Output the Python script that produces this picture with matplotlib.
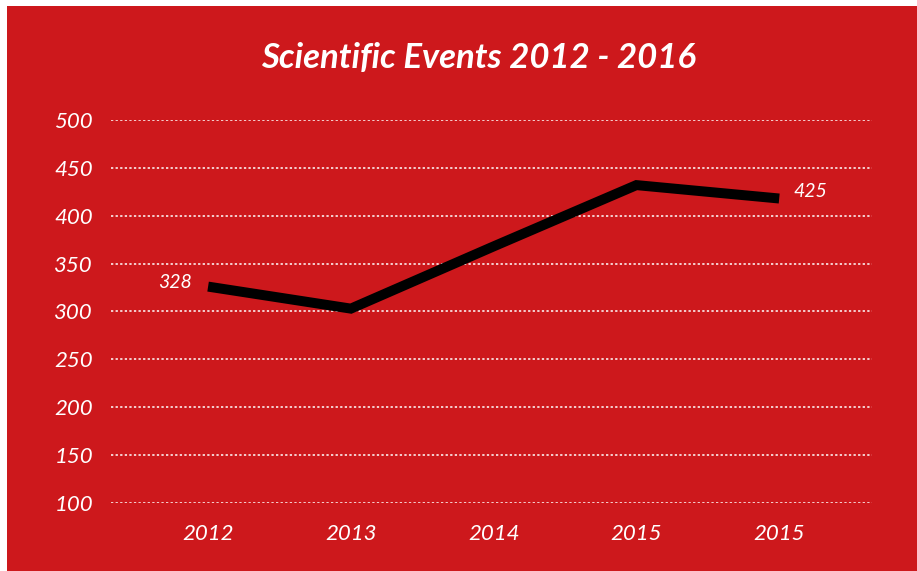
import matplotlib
matplotlib.use("Agg")
import matplotlib.pyplot as plt

years = ["2012", "2013", "2014", "2015", "2015"]
events = [326, 303, 368, 432, 418]
label_texts = ["328", "", "", "", "425"]
yticks = [100, 150, 200, 250, 300, 350, 400, 450, 500]
title = "Scientific Events 2012 - 2016"

RED = "#cd181c"
fig = plt.figure(figsize=(9.17, 5.71), dpi=100)
fig.patch.set_facecolor("white")
bg = fig.add_axes([7/917, 0, 1 - 7/917, 1 - 6/571])
bg.set_facecolor(RED)
bg.set_xticks([]); bg.set_yticks([])
for s in bg.spines.values():
    s.set_visible(False)
bg.set_zorder(0)

ax = fig.add_axes([111/917, 1 - 503/571, 761/917, 383/571])
ax.set_zorder(1)
ax.set_facecolor("none")
x = list(range(len(years)))
ax.plot(x, events, color="black", linewidth=7.2, solid_joinstyle="miter",
        solid_capstyle="butt", zorder=3, clip_on=False)
ax.set_xlim(-0.68, 4.65)
ax.set_ylim(100, 500)
ax.set_yticks(yticks)
ax.set_xticks(x)
ax.set_xticklabels(years)
ax.grid(axis="y", color="white", linestyle=(0, (1.5, 1.5)), linewidth=1.1)
ax.grid(axis="x", visible=False)
for s in ax.spines.values():
    s.set_visible(False)
ax.tick_params(length=0, colors="white", labelsize=16)
ax.tick_params(axis="y", pad=13)
ax.tick_params(axis="x", pad=15)
for lab in ax.get_xticklabels() + ax.get_yticklabels():
    lab.set_fontstyle("italic")
    lab.set_fontfamily("Lato")

ax.annotate(label_texts[0], (x[0], events[0]), xytext=(-12, 3), textcoords="offset points",
            ha="right", va="center", color="white", fontsize=14, fontstyle="italic", family="Lato")
ax.annotate(label_texts[4], (x[4], events[4]), xytext=(10, 5), textcoords="offset points",
            ha="left", va="center", color="white", fontsize=14, fontstyle="italic", family="Lato")

fig.text(478/917, 1 - 58/571, title, ha="center", va="center", color="white",
         fontsize=25, fontweight="bold", fontstyle="italic", family="Lato", zorder=5)

fig.savefig("out.png", dpi=100, facecolor=fig.get_facecolor())
